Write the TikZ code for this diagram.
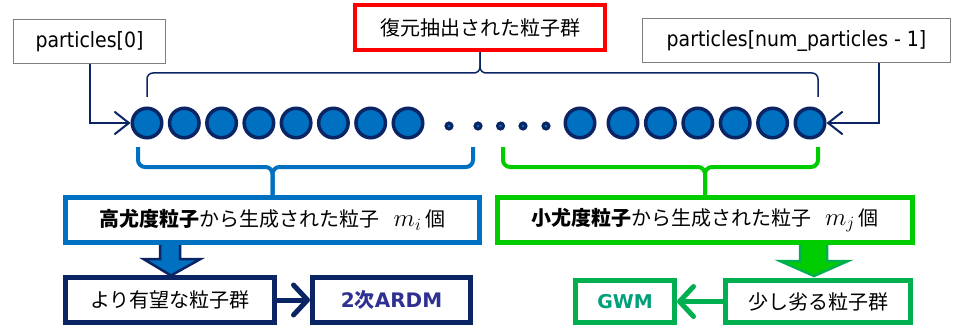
\documentclass[tikz,border=0pt]{standalone}
\usepackage{fontspec}
\setmainfont{DejaVu Sans Condensed}
\newfontfamily\jp{Noto Sans CJK JP}
\newfontfamily\wide{DejaVu Sans}
\usetikzlibrary{arrows.meta,calc}
\definecolor{navy}{HTML}{0B2463}
\definecolor{pblue}{HTML}{0070C0}
\definecolor{bgreen}{HTML}{00CC00}
\definecolor{dgreen}{HTML}{00B050}
\definecolor{ardmc}{HTML}{2E3192}
\definecolor{gwmc}{HTML}{00A07A}
\definecolor{boxgray}{HTML}{7F7F7F}
\begin{document}
\begin{tikzpicture}[x=1pt,y=-1pt,
  box/.style={draw, rectangle, inner sep=0pt, align=center, fill=white,
    font=\fontsize{20}{24}\selectfont},
  latbox/.style={box, font=\fontsize{21}{25}\selectfont},
  particle/.style={circle, draw=navy, fill=pblue, line width=3.5pt,
    minimum size=29.5pt, inner sep=0pt},
  smalldot/.style={circle, draw=navy, fill=pblue, line width=3pt,
    minimum size=6pt, inner sep=0pt},
  thinarrow/.style={draw=navy, line width=2pt,
    -{Straight Barb[length=14pt,width=22pt,line cap=round]}},
  thickarrow/.style={line width=5pt, line cap=round,
    -{Straight Barb[length=14pt,width=30pt,line cap=round,line join=round]}},
  brace/.style={line width=4pt, rounded corners=7pt},
  blockarrow/.style={line width=2.5pt, line join=miter}
]
\useasboundingbox (0,0) rectangle (960,326);

% top boxes
\node[latbox, draw=boxgray, line width=1.5pt, minimum width=152pt, minimum height=44pt]
  (p0) at (89.5,41.5) {particles[0]};
\node[box, draw=red, line width=4.5pt, minimum width=250pt, minimum height=45pt]
  (redbox) at (480,27.5) {\jp 復元抽出された粒子群};
\node[latbox, draw=boxgray, line width=1.5pt, minimum width=308pt, minimum height=44pt]
  (plast) at (796.5,40.5) {particles[num\_particles - 1]};

% top brace
\draw[navy, line width=1.5pt, rounded corners=6pt]
  (147,97) -- (147,73) -- (480,73) -- (redbox.south);
\draw[navy, line width=1.5pt, rounded corners=6pt]
  (818,97) -- (818,73) -- (480,73) -- (redbox.south);

% particles
\foreach \i/\x in {1/147,2/184.3,3/221.6,4/258.9,5/296.1,6/333.4,7/370.7,8/408,
                   9/580,10/623,11/660.4,12/697.8,13/735.2,14/772.6,15/810}
  \node[particle] (c\i) at (\x,123) {};
\foreach \i/\x in {1/449,2/478,3/500.5,4/523,5/546}
  \node[smalldot] (d\i) at (\x,126) {};

% arrows to first/last particle
\draw[thinarrow] (p0.south) |- (c1.west);
\draw[thinarrow] ([xshift=82.5pt]plast.south) |- (c15.east);

% lower group boxes
\node[box, draw=pblue, line width=5pt, minimum width=414pt, minimum height=45pt]
  (bluebox) at (272.5,220)
  {{\jp\bfseries 高尤度粒子}{\jp から生成された粒子}\hspace{14pt}{\fontsize{25}{28}\selectfont$m_i$}\hspace{4pt}{\jp 個}};
\node[box, draw=bgreen, line width=5pt, minimum width=415pt, minimum height=45pt]
  (greenbox) at (705,220)
  {{\jp\bfseries 小尤度粒子}{\jp から生成された粒子}\hspace{14pt}{\fontsize{25}{28}\selectfont$m_j$}\hspace{4pt}{\jp 個}};

% brackets
\draw[pblue, brace] (138,147) -- (138,167) -- (272.5,167) -- (bluebox.north);
\draw[pblue, brace] (473,147) -- (473,167) -- (272.5,167) -- (bluebox.north);
\draw[bgreen, brace] (503,147) -- (503,167) -- (705,167) -- (greenbox.north);
\draw[bgreen, brace] (818,147) -- (818,167) -- (705,167) -- (greenbox.north);

% bottom boxes
\node[box, draw=navy, line width=5pt, minimum width=209pt, minimum height=45pt]
  (better) at (170,300) {\jp より有望な粒子群};
\node[box, draw=navy, line width=5pt, minimum width=158pt, minimum height=45pt]
  (ardm) at (391.5,300) {\color{ardmc}\wide\bfseries 2{\jp\bfseries 次}ARDM};
\node[box, draw=dgreen, line width=5pt, minimum width=185pt, minimum height=42pt]
  (worse) at (818,301.5) {\jp 少し劣る粒子群};
\node[box, draw=dgreen, line width=5pt, minimum width=99pt, minimum height=42pt]
  (gwm) at (625,301.5) {\color{gwmc}\wide\bfseries\fontsize{19}{22}\selectfont GWM};

% block arrows
\filldraw[blockarrow, draw=navy, fill=pblue]
  (160,245) -- (160,259) -- (143.5,259) -- (171,275.5) -- (200.5,259)
  -- (180,259) -- (180,245);
\filldraw[blockarrow, draw=dgreen, fill=bgreen]
  (800,245) -- (800,261) -- (780,261) -- (814,276) -- (848,261)
  -- (827,261) -- (827,245);

% connectors between bottom boxes
\draw[thickarrow, navy] (better.east) -- (ardm.west);
\draw[thickarrow, dgreen] (worse.west) -- (gwm.east);
\end{tikzpicture}
\end{document}
